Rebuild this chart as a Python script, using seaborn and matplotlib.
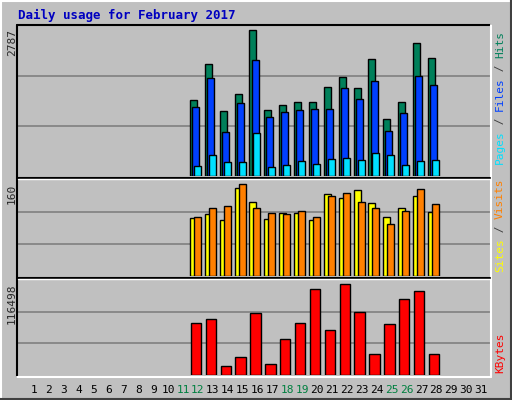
import numpy as np
import pandas as pd
import matplotlib
matplotlib.use('Agg')
import matplotlib.pyplot as plt
import seaborn as sns

days = list(range(12, 29))
hits = [1460, 2142, 1232, 1574, 2787, 1251, 1346, 1403, 1403, 1706, 1896, 1687, 2237, 1081, 1403, 2541, 2256]
files = [1308, 1877, 834, 1384, 2218, 1119, 1213, 1251, 1270, 1270, 1687, 1479, 1820, 853, 1194, 1915, 1744]
pages = [190, 398, 265, 265, 815, 171, 209, 284, 228, 322, 341, 303, 436, 398, 209, 284, 303]
sites = [101, 108, 97, 153, 129, 99, 110, 110, 97, 143, 136, 150, 127, 103, 118, 139, 111]
visits = [103, 118, 122, 160, 118, 110, 108, 113, 103, 139, 144, 129, 118, 90, 113, 151, 125]
kbytes = [66565, 71686, 11521, 23042, 79367, 14081, 46084, 66565, 110089, 57605, 116498, 80647, 26882, 65285, 97288, 107528, 26882]
weekends = [11, 12, 18, 19, 25, 26]

GRAY = '#C0C0C0'
sns.set_style('white')
plt.rcParams['font.family'] = ['DejaVu Sans Mono']

fig = plt.figure(figsize=(5.12, 4.0), dpi=100, facecolor=GRAY)
W, H = 512, 400

def px_axes(x0, y0, x1, y1):
    return fig.add_axes([x0 / W, 1 - y1 / H, (x1 - x0) / W, (y1 - y0) / H])

XL = (1 - 16 / 14.9, 31 + 10 / 14.9)

def bars(ax, vals, off, color, width):
    df = pd.DataFrame({'d': np.array(days) + off, 'v': vals})
    sns.barplot(data=df, x='d', y='v', native_scale=True, color=color, width=width,
                edgecolor='black', linewidth=1, saturation=1, ax=ax, zorder=3)

def style(ax, ymax):
    ax.set_facecolor(GRAY)
    ax.set_xlim(*XL)
    ax.set_ylim(0, ymax)
    for f in (1 / 3, 2 / 3):
        ax.axhline(ymax * f, color='#808080', lw=1.2, zorder=1)
    ax.set_xticks([]); ax.set_yticks([])
    ax.set_xlabel(''); ax.set_ylabel('')
    for s in ax.spines.values():
        s.set_visible(False)

ax1 = px_axes(18, 26, 490, 176)
bars(ax1, hits, -0.27, '#00805A', 0.47)
bars(ax1, files, -0.13, '#0040FF', 0.47)
bars(ax1, pages, 0.0, '#00E0FF', 0.47)
style(ax1, 2787 * 151 / 147)

ax2 = px_axes(18, 180, 490, 276)
bars(ax2, sites, -0.27, '#FFFF00', 0.47)
bars(ax2, visits, 0.0, '#FF8000', 0.47)
style(ax2, 160 * 96.3 / 92)

ax3 = px_axes(18, 280, 490, 375)
bars(ax3, kbytes, -0.1, '#FF0000', 0.7)
style(ax3, 116498 * 95 / 91)

# frame lines
def hline(y, x0, x1, c, lw=1.5):
    fig.add_artist(plt.Line2D([x0 / W, x1 / W], [1 - y / H, 1 - y / H], color=c, lw=lw))
def vline(x, y0, y1, c, lw=1.5):
    fig.add_artist(plt.Line2D([x / W, x / W], [1 - y0 / H, 1 - y1 / H], color=c, lw=lw))

hline(25, 17, 491, 'black'); vline(17, 25, 377, 'black')
hline(377, 17, 491, 'white'); vline(491, 25, 377, 'white')
hline(178, 18, 490, 'black'); hline(179, 18, 490, 'white', 1)
hline(278, 18, 490, 'black'); hline(279, 18, 490, 'white', 1)
hline(1, 0, 512, 'white'); vline(1, 0, 400, 'white')
hline(399, 0, 512, '#404040'); vline(511, 0, 400, '#404040')

fig.text(18 / W, 1 - 15 / H, 'Daily usage for February 2017', color='#0000C0',
         fontsize=9, fontweight='bold', va='center', ha='left')

for d in range(1, 32):
    fig.text((34 + 14.9 * (d - 1)) / W, 1 - 390 / H, str(d), fontsize=8, ha='center', va='center',
             color='#008040' if d in weekends else 'black')

for txt, y in [('2787', 29), ('160', 184), ('116498', 284)]:
    fig.text(12 / W, 1 - y / H, txt, rotation=90, fontsize=8, ha='center', va='top')

def rlabel(parts, ybottom):
    y = ybottom
    cw = 6.6
    for txt, c in parts:
        fig.text(500 / W, 1 - y / H, txt, rotation=90, fontsize=8, color=c,
                 ha='center', va='bottom')
        y -= cw * len(txt)

rlabel([('Pages', '#00E0FF'), (' / ', '#404040'), ('Files', '#0040FF'),
        (' / ', '#404040'), ('Hits', '#00805A')], 164)
rlabel([('Sites', '#FFFF00'), (' / ', '#404040'), ('Visits', '#FF8000')], 272)
rlabel([('KBytes', '#FF0000')], 373)

fig.savefig('out.png', dpi=100, facecolor=GRAY)
